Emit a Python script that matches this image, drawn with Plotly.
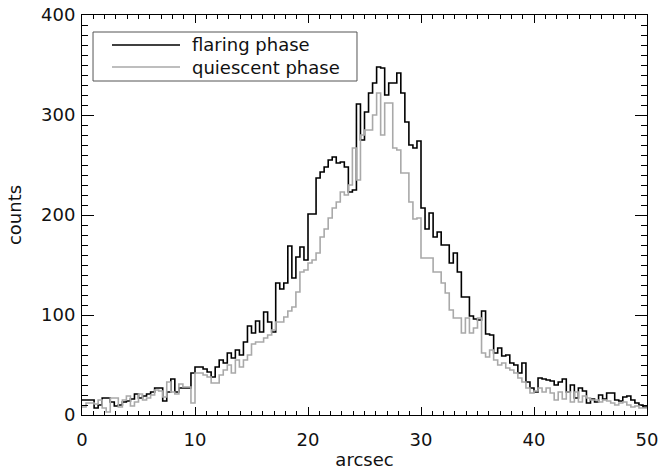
import plotly.graph_objects as go

# Histogram of counts vs radial offset (arcsec); 140 bins spanning 0-50 arcsec
x_min = 0.0
x_max = 50.0

flaring = [15, 15, 15, 7, 10, 17, 17, 13, 9, 10,
           13, 14, 16, 21, 17, 19, 21, 23, 27, 27,
           14, 23, 36, 23, 27, 27, 27, 42, 48, 48,
           46, 43, 38, 48, 55, 52, 62, 57, 65, 60,
           73, 89, 82, 94, 83, 103, 93, 83, 132, 126,
           132, 169, 137, 158, 168, 155, 201, 201, 237, 243,
           248, 255, 258, 252, 253, 248, 223, 225, 311, 275,
           303, 322, 332, 348, 347, 320, 332, 332, 342, 322,
           293, 270, 267, 274, 207, 186, 202, 178, 183, 170,
           170, 152, 162, 143, 118, 118, 99, 96, 95, 104,
           81, 80, 62, 67, 59, 60, 52, 50, 42, 52,
           33, 27, 23, 37, 36, 35, 34, 30, 33, 36,
           23, 30, 17, 27, 24, 12, 16, 13, 20, 16,
           22, 22, 15, 14, 18, 19, 15, 12, 10, 8]

quiescent = [8, 12, 12, 11, 15, 7, 3, 17, 17, 8,
             15, 19, 9, 13, 21, 15, 17, 20, 25, 24,
             18, 33, 23, 21, 31, 28, 28, 12, 42, 42,
             40, 38, 32, 32, 40, 45, 50, 42, 55, 48,
             55, 60, 71, 73, 73, 77, 80, 85, 93, 93,
             98, 104, 108, 123, 143, 145, 152, 155, 162, 178,
             186, 197, 207, 213, 223, 220, 230, 267, 235, 280,
             285, 285, 300, 322, 280, 312, 312, 267, 265, 242,
             242, 213, 196, 197, 157, 157, 157, 143, 143, 132,
             122, 105, 97, 97, 82, 97, 82, 87, 97, 62,
             58, 65, 55, 50, 52, 47, 45, 42, 37, 33,
             27, 22, 24, 27, 23, 27, 22, 15, 23, 16,
             23, 13, 23, 13, 19, 17, 15, 15, 13, 15,
             14, 12, 10, 12, 13, 10, 8, 9, 7, 7]

series_names = ["flaring phase", "quiescent phase"]
series_colors = ["#000000", "#a9a9a9"]
x_ticks = [0, 10, 20, 30, 40, 50]
y_ticks = [0, 100, 200, 300, 400]

n_bins = len(flaring)
bin_w = (x_max - x_min) / n_bins
edges = [x_min + i * bin_w for i in range(n_bins + 1)]

FONT = "DejaVu Sans"
TXT = "#111111"

fig = go.Figure()
for vals, name, col in zip([flaring, quiescent], series_names, series_colors):
    fig.add_trace(go.Scatter(
        x=edges, y=vals + [vals[-1]], mode="lines", line_shape="hv",
        line=dict(color=col, width=1.6), name=name, showlegend=False))

axis_common = dict(
    showgrid=False, zeroline=False, showline=True, linecolor="#000000",
    linewidth=1, mirror="allticks", ticks="inside", tickcolor="#000000",
    tickfont=dict(family=FONT, size=18, color=TXT), automargin=False,
)

# legend box drawn in paper coordinates (plot area: 565 x 400 px)
box_x0, box_x1, box_y0, box_y1 = 0.0195, 0.4867, 0.835, 0.9575
line_x0, line_x1, text_x = 0.0531, 0.1735, 0.1912
row_y = [0.925, 0.870]
shapes = [dict(type="rect", xref="paper", yref="paper", x0=box_x0, x1=box_x1,
               y0=box_y0, y1=box_y1, line=dict(color="#555555", width=1),
               fillcolor="white", layer="above")]
annotations = []
for name, col, ry in zip(series_names, series_colors, row_y):
    shapes.append(dict(type="line", xref="paper", yref="paper", x0=line_x0,
                       x1=line_x1, y0=ry, y1=ry, line=dict(color=col, width=1.6),
                       layer="above"))
    annotations.append(dict(xref="paper", yref="paper", x=text_x, y=ry,
                            xanchor="left", yanchor="middle", text=name,
                            showarrow=False,
                            font=dict(family=FONT, size=18, color=TXT)))

fig.update_layout(
    width=661, height=470,
    margin=dict(l=82, r=14, t=15, b=55),
    paper_bgcolor="white", plot_bgcolor="white",
    font=dict(family=FONT, size=18, color=TXT),
    showlegend=False,
    shapes=shapes, annotations=annotations,
    xaxis=dict(
        range=[x_min, x_max], tickvals=x_ticks, ticklen=8, tickwidth=1,
        minor=dict(dtick=1, ticklen=4, ticks="inside", tickcolor="#000000"),
        title=dict(text="arcsec", font=dict(family=FONT, size=18, color=TXT), standoff=6),
        ticklabelstandoff=8,
        **axis_common,
    ),
    yaxis=dict(
        range=[0, 400], tickvals=y_ticks, ticklen=12, tickwidth=1,
        minor=dict(dtick=10, ticklen=6, ticks="inside", tickcolor="#000000"),
        title=dict(text="counts", font=dict(family=FONT, size=18, color=TXT), standoff=14),
        ticklabelstandoff=2,
        **axis_common,
    ),
)

fig.write_html("out.html")
